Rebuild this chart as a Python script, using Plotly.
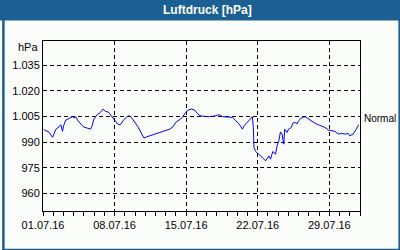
import pandas as pd
import plotly.graph_objects as go

# Data: days since 01.07.2016 and air pressure (hPa)
days = [0.07, 0.29, 0.51, 0.77, 0.94, 1.09, 1.26, 1.58, 1.74, 1.91, 2.01, 2.23, 2.55, 2.88, 3.03,
        3.20, 3.42, 3.68, 3.94, 4.33, 4.65, 4.81, 4.97, 5.30, 5.62, 5.88, 6.10, 6.42, 6.66, 6.91,
        7.07, 7.29, 7.56, 7.82, 8.20, 8.46, 8.69, 9.01, 9.33, 9.66, 9.88, 10.14, 10.46, 10.78,
        11.11, 11.43, 11.75, 12.08, 12.40, 12.72, 12.98, 13.30, 13.63, 13.85, 14.17, 14.50,
        14.82, 15.14, 15.37, 15.63, 15.95, 16.27, 16.76, 17.24, 17.56, 18.05, 18.53, 18.86,
        19.18, 19.50, 19.67, 19.98, 20.31, 20.47, 20.57, 20.63, 20.80, 21.12, 21.44, 21.77,
        22.09, 22.25, 22.47, 22.74, 22.89, 23.06, 23.22, 23.38, 23.54, 23.64, 23.86, 24.02,
        24.29, 24.41, 24.67, 24.83, 24.99, 25.16, 25.38, 25.64, 25.96, 26.28, 26.61, 26.93,
        27.25, 27.58, 27.90, 28.22, 28.55, 28.87, 29.19, 29.52, 29.84, 30.00, 30.32, 30.64, 30.87]
pressure = [997.6, 996.6, 996.3, 994.3, 992.8, 995.1, 997.6, 999.0, 1000.2, 996.3, 999.6, 1002.9,
            1004.1, 1004.9, 1004.1, 1004.9, 1002.5, 1000.6, 999.0, 998.2, 997.6, 999.6, 1003.5,
            1006.1, 1007.5, 1009.4, 1008.1, 1007.5, 1005.5, 1004.1, 1002.5, 1000.6, 1000.2,
            1002.5, 1004.9, 1005.5, 1004.1, 1001.6, 998.6, 994.7, 992.4, 993.1, 993.7, 994.3,
            995.1, 995.7, 996.3, 996.6, 997.6, 999.0, 1001.6, 1002.9, 1004.5, 1006.5, 1008.8,
            1009.4, 1008.8, 1006.5, 1005.5, 1005.2, 1004.9, 1004.9, 1005.3, 1006.1, 1004.9,
            1004.9, 1004.5, 1002.5, 1000.6, 997.6, 999.6, 1001.6, 1003.5, 1004.9, 998.6, 986.9,
            984.5, 982.9, 981.0, 979.0, 981.9, 980.0, 984.5, 982.9, 987.8, 990.8, 996.0, 994.7,
            988.8, 997.6, 995.7, 997.6, 998.6, 1001.0, 1001.6, 1000.6, 1002.5, 1003.5, 1004.5,
            1004.9, 1003.5, 1002.5, 1001.0, 1000.2, 999.6, 998.6, 997.1, 996.6, 996.3, 994.7,
            995.1, 994.7, 995.1, 993.7, 994.7, 997.6, 1000.2]

y_ticks = [960, 975, 990, 1005, 1020, 1035]
y_tick_labels = ["960", "975", "990", "1.005", "1.020", "1.035"]
x_tick_dates = ["2016-07-01", "2016-07-08", "2016-07-15", "2016-07-22", "2016-07-29"]
x_tick_labels = ["01.07.16", "08.07.16", "15.07.16", "22.07.16", "29.07.16"]
normal_value = 1004

start = pd.Timestamp("2016-07-01")
times = start + pd.to_timedelta(days, unit="D")

BLUE = "#1c5f92"
BG = "#fbfdfb"
FONT = "Liberation Sans"

fig = go.Figure()
fig.add_trace(go.Scatter(x=times, y=pressure, mode="lines",
                         line=dict(color="#0000ff", width=1), hoverinfo="skip"))

fig.update_layout(
    width=400, height=250,
    margin=dict(l=40, r=40, t=41, b=39),
    paper_bgcolor=BG, plot_bgcolor=BG,
    showlegend=False,
    font=dict(family=FONT, size=11, color="#000000"),
)

fig.update_xaxes(
    range=["2016-07-01", "2016-08-01"],
    tickmode="array", tickvals=x_tick_dates, ticktext=x_tick_labels,
    ticks="outside", ticklen=4, tickcolor="#000", tickwidth=1,
    showgrid=True, gridcolor="#000", gridwidth=1, griddash="4px,3px",
    showline=True, linecolor="#000", linewidth=1, mirror=True,
    minor=dict(dtick=86400000, tick0="2016-07-01", ticks="outside", ticklen=4,
               tickcolor="#000", showgrid=False),
    tickfont=dict(family=FONT, size=11, color="#000"),
    zeroline=False,
)
fig.update_yaxes(
    range=[949.6, 1049.3],
    tickmode="array", tickvals=y_ticks, ticktext=y_tick_labels,
    ticks="", showgrid=True, gridcolor="#000", gridwidth=1, griddash="4px,3px",
    showline=True, linecolor="#000", linewidth=1, mirror=True,
    tickfont=dict(family=FONT, size=11, color="#000"),
    zeroline=False,
)

# title bar and frame
fig.add_shape(type="rect", xref="paper", yref="paper",
              x0=-0.2, x1=1.2, y0=1 + 20.5 / 170, y1=1.3,
              fillcolor=BLUE, line=dict(width=0), layer="below")
fig.add_shape(type="rect", xref="paper", yref="paper",
              x0=-40 / 320, x1=1 + 40 / 320, y0=-39 / 170, y1=1 + 41 / 170,
              fillcolor="rgba(0,0,0,0)", line=dict(color=BLUE, width=2.5), layer="below")

fig.add_annotation(text="<b>Luftdruck [hPa]</b>", xref="paper", yref="paper",
                   x=(206 - 40) / 320, y=1 + (41 - 10.5) / 170, xanchor="center", yanchor="middle",
                   showarrow=False, font=dict(family=FONT, size=12, color="#ffffff"))
fig.add_annotation(text="hPa", xref="paper", yref="y", x=0, y=1045.5,
                   xanchor="right", yanchor="middle", xshift=-3, showarrow=False,
                   font=dict(family=FONT, size=11, color="#000"))
fig.add_annotation(text="Normal", xref="paper", yref="y", x=1, y=normal_value,
                   xanchor="left", yanchor="middle", xshift=2, showarrow=False,
                   font=dict(family=FONT, size=10, color="#000"))

fig.write_html("out.html")
